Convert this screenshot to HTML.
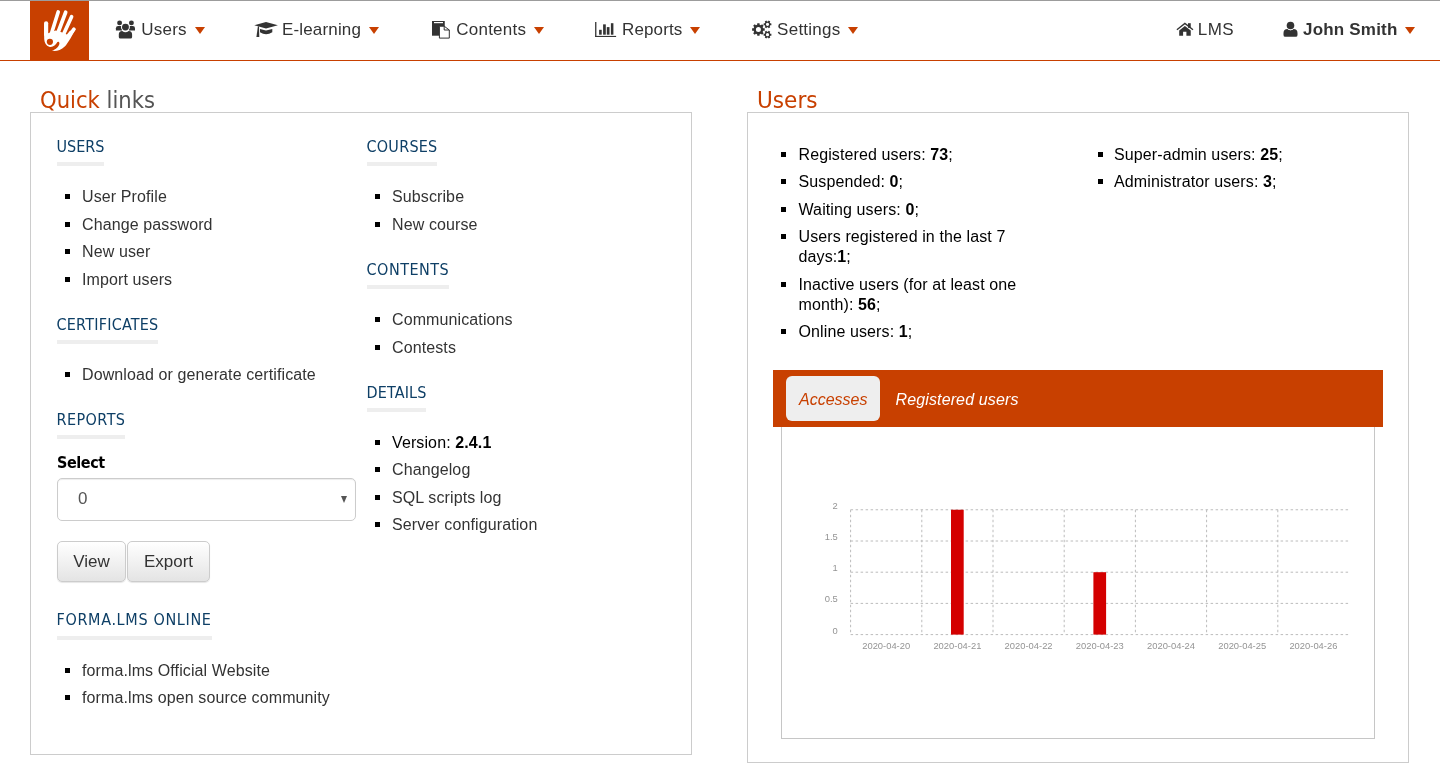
<!DOCTYPE html>
<html lang="en">
<head>
<meta charset="utf-8">
<title>forma.lms - Dashboard</title>
<style>
*{box-sizing:border-box;margin:0;padding:0}
html,body{width:1440px;height:769px;overflow:hidden;background:#fff}
body{font-family:"Liberation Sans",Arial,sans-serif;font-size:16px;color:#000;position:relative}
a{color:inherit;text-decoration:none}
.hf{font-family:"DejaVu Sans Condensed","DejaVu Sans","Liberation Sans",sans-serif}
/* header */
#topline{position:absolute;left:0;top:0;width:1440px;height:1px;background:#9c9c9c}
#header{position:absolute;left:0;top:1px;width:1440px;height:60px;border-bottom:1px solid #c84000;background:#fff}
#logo{position:absolute;left:30px;top:0;width:59px;height:59px;background:#c84000}
.nav{position:absolute;top:0;height:59px;font-size:17px;line-height:20px;color:#333;white-space:nowrap}
.nav .t{position:absolute;top:19px;left:0}
.nav svg{position:absolute}
.caret{position:absolute;width:0;height:0;border-left:5px solid transparent;border-right:5px solid transparent;border-top:7px solid #c84000;top:26px}
/* panels */
.ptitle{position:absolute;font-family:"DejaVu Sans","Liberation Sans",sans-serif;font-size:22.6px;line-height:26px;color:#c84000;white-space:nowrap;transform:scaleX(.943);transform-origin:0 0}
.ptitle span{color:#555}
.panel{position:absolute;border:1px solid #ccc;background:#fff}
.col{position:absolute;top:0}
h3{position:absolute;text-indent:-.5px;font-weight:normal;font-size:16px;line-height:20px;color:#0e3f66;white-space:nowrap;border-bottom:4px solid #eee;height:29px}
ul{position:absolute;list-style:none}
ul li{position:relative;line-height:20px;white-space:nowrap;letter-spacing:.11px}
ul li:before{content:"";position:absolute;width:5px;height:5px;background:#000}
.ql li.x{height:28px}
.ql li{height:27px;color:#333;padding-left:0}
.ql li:before{left:-17px;top:7px}
#sellabel{position:absolute;font-weight:bold;font-size:16px;line-height:20px;color:#000;letter-spacing:-.4px}
#select{position:absolute;left:26px;top:365px;width:299px;height:43px;border:1px solid #ccc;border-radius:5px;background:#fff;color:#555;font-size:17px;box-shadow:inset 0 1px 1px rgba(0,0,0,.075)}
#select span{position:absolute;left:20px;top:10px;line-height:20px}
#select i{position:absolute;right:8px;top:17px;width:0;height:0;border-left:3.75px solid transparent;border-right:3.75px solid transparent;border-top:7.2px solid #555}
.btn{position:absolute;top:428px;height:41px;border:1px solid #ccc;border-radius:5px;background:linear-gradient(#fff,#e4e4e4);color:#333;font-size:17px;line-height:39px;text-align:center;box-shadow:0 1px 1px rgba(0,0,0,.1)}
.ul li{white-space:normal;line-height:20px;margin-bottom:7.43px;color:#000}
.ul li:before{left:-17.5px;top:7px}
.ul.r li:before{left:-16px}
#tabs{position:absolute;left:25px;top:257px;width:610px;height:57px;background:#c84000;font-style:italic;font-size:16px;line-height:20px;letter-spacing:.13px}
#tab1{letter-spacing:0;position:absolute;left:13px;top:6px;width:94px;height:45px;border-radius:6px;background:#eee;color:#c84000;padding:14px 0 0 13px}
#tab2{position:absolute;left:122.5px;top:20px;color:#fff;white-space:nowrap}
#chart{position:absolute;left:33px;top:314px;width:594px;height:312px;border:1px solid #c6c6c6;border-top:0}
</style>
</head>
<body>
<div id="topline"></div>
<div id="header">
  <div id="logo"></div>
  <div class="nav" style="left:116px"><span class="t" style="left:25.2px;letter-spacing:.25px">Users</span><i class="caret" style="left:79px"></i></div>
  <div class="nav" style="left:254px"><span class="t" style="left:28px;letter-spacing:.16px">E-learning</span><i class="caret" style="left:115px"></i></div>
  <div class="nav" style="left:431px"><span class="t" style="left:25.3px;letter-spacing:.22px">Contents</span><i class="caret" style="left:103px"></i></div>
  <div class="nav" style="left:595px"><span class="t" style="left:27px;letter-spacing:.13px">Reports</span><i class="caret" style="left:95px"></i></div>
  <div class="nav" style="left:752px"><span class="t" style="left:25.1px;letter-spacing:.25px">Settings</span><i class="caret" style="left:96px"></i></div>
  <div class="nav" style="left:1177px"><span class="t" style="left:20.8px;letter-spacing:.4px">LMS</span></div>
  <div class="nav" style="left:1284px"><span class="t" style="left:19px;font-weight:bold;letter-spacing:.2px">John Smith</span><i class="caret" style="left:121px"></i></div>
<svg id="icons" width="1440" height="61" viewBox="0 0 1440 61" style="position:absolute;left:0;top:-1px"><g transform="translate(38 4) scale(0.067568)"><path d="M90 420 L92 520 C95 572 122 616 165 632 C215 646 262 612 284 566 C292 552 314 558 317 580 C316 628 262 672 205 690 C255 708 330 690 400 625 C440 580 470 530 560 365 L470 400 L428 452 L348 418 L262 392 L150 432 Z" fill="#fff"/><g stroke="#fff" stroke-linecap="round" fill="none"><line x1="120" y1="286" x2="120" y2="450" stroke-width="62"/><line x1="299" y1="118" x2="198" y2="440" stroke-width="54"/><line x1="409" y1="123" x2="290" y2="440" stroke-width="56"/><line x1="497" y1="188" x2="375" y2="455" stroke-width="54"/><line x1="532" y1="372" x2="440" y2="500" stroke-width="52"/></g><circle cx="176" cy="560" r="46" fill="#c84000"/></g><g fill="#333"><circle cx="119.6" cy="22.9" r="2.45"/><circle cx="131.4" cy="22.9" r="2.45"/><path d="M115.9 30.4 V28.2 Q115.9 25.9 118.2 25.9 H122 V30.4 Z"/><path d="M135 30.4 V28.2 Q135 25.9 132.7 25.9 H129 V30.4 Z"/><circle cx="125.45" cy="27.1" r="4.5" fill="#fff"/><circle cx="125.45" cy="27.1" r="3.45"/><path d="M118.8 37 V34.6 Q118.8 31 122.2 31 Q125.45 33.6 128.7 31 Q132.1 31 132.1 34.6 V37 Q132.1 38.6 130.5 38.6 H120.4 Q118.8 38.6 118.8 37Z"/></g><g fill="#333"><path d="M254.3 25.3 L266 22 L277.9 25.3 L266 28.6 Z"/><path d="M260 28.9 L266 30.6 L272.3 28.9 V32.3 Q266 36.3 260 32.3 Z"/><path d="M257.9 26.3 L259 26.6 L259.3 37 L256.4 37 Z"/></g><g><rect x="432" y="21" width="12.75" height="14.7" fill="#333"/><rect x="434" y="22" width="9" height="1.2" fill="#fff"/><path d="M439.4 26.2 H444.2 L449.3 30 V38.1 H439.4 Z" fill="#fff" stroke="#333" stroke-width="1"/><path d="M444.2 26.2 V30 H449.3" fill="none" stroke="#333" stroke-width="1"/></g><g fill="#333"><rect x="595.1" y="22" width="1.3" height="15"/><rect x="595.1" y="35.9" width="21" height="1.1"/><rect x="599.1" y="29.8" width="2.6" height="4.9"/><rect x="603.1" y="24.35" width="2.7" height="10.35"/><rect x="606.8" y="27.1" width="2.7" height="7.6"/><rect x="610.9" y="23.2" width="2.5" height="11.5"/></g><path d="M759.66 34.24 L759.53 35.80 L757.27 35.80 L757.14 34.24 L755.94 33.74 L754.74 34.75 L753.15 33.16 L754.16 31.96 L753.66 30.76 L752.10 30.63 L752.10 28.37 L753.66 28.24 L754.16 27.04 L753.15 25.84 L754.74 24.25 L755.94 25.26 L757.14 24.76 L757.27 23.20 L759.53 23.20 L759.66 24.76 L760.86 25.26 L762.06 24.25 L763.65 25.84 L762.64 27.04 L763.14 28.24 L764.70 28.37 L764.70 30.63 L763.14 30.76 L762.64 31.96 L763.65 33.16 L762.06 34.75 L760.86 33.74Z M760.90 29.50 A2.5 2.5 0 1 0 755.90 29.50 A2.5 2.5 0 1 0 760.90 29.50Z" fill="#333" fill-rule="evenodd"/><path d="M770.23 23.37 L771.39 23.41 L771.39 25.29 L770.23 25.33 L769.72 26.22 L770.26 27.25 L768.63 28.19 L768.01 27.20 L766.99 27.20 L766.37 28.19 L764.74 27.25 L765.28 26.22 L764.77 25.33 L763.61 25.29 L763.61 23.41 L764.77 23.37 L765.28 22.48 L764.74 21.45 L766.37 20.51 L766.99 21.50 L768.01 21.50 L768.63 20.51 L770.26 21.45 L769.72 22.48Z M769.10 24.35 A1.6 1.6 0 1 0 765.90 24.35 A1.6 1.6 0 1 0 769.10 24.35Z" fill="#333" fill-rule="evenodd"/><path d="M770.23 33.72 L771.39 33.76 L771.39 35.64 L770.23 35.68 L769.72 36.57 L770.26 37.60 L768.63 38.54 L768.01 37.55 L766.99 37.55 L766.37 38.54 L764.74 37.60 L765.28 36.57 L764.77 35.68 L763.61 35.64 L763.61 33.76 L764.77 33.72 L765.28 32.83 L764.74 31.80 L766.37 30.86 L766.99 31.85 L768.01 31.85 L768.63 30.86 L770.26 31.80 L769.72 32.83Z M769.10 34.70 A1.6 1.6 0 1 0 765.90 34.70 A1.6 1.6 0 1 0 769.10 34.70Z" fill="#333" fill-rule="evenodd"/><g><path d="M1176.9 29.7 L1184.9 23.4 L1193 29.7" fill="none" stroke="#333" stroke-width="1.4"/><rect x="1188" y="23.2" width="2.75" height="4.6" fill="#333"/><path d="M1179.2 30.6 L1184.9 26.1 L1190.75 30.6 V35.7 H1186.4 V31.8 H1183.1 V35.7 H1179.2 Z" fill="#333"/></g><g fill="#333"><path d="M1283.5 35 V33 Q1283.5 29 1287.6 29 Q1290.5 31.6 1293.4 29 Q1297.5 29 1297.5 33 V35 Q1297.5 36.85 1295.7 36.85 H1285.3 Q1283.5 36.85 1283.5 35 Z"/><circle cx="1290.5" cy="25.5" r="4.7" fill="#fff"/><circle cx="1290.5" cy="25.5" r="3.8"/></g></svg>
</div>

<div class="ptitle" style="left:40px;top:87.3px;transform:scaleX(.937)">Quick <span>links</span></div>
<div class="panel" id="ql" style="left:30px;top:112px;width:662px;height:643px">
  <h3 class="hf" style="left:26px;top:24px">USERS</h3>
  <ul class="ql" style="left:51px;top:74px">
    <li class="x"><a>User Profile</a></li>
    <li><a>Change password</a></li>
    <li class="x"><a>New user</a></li>
    <li><a>Import users</a></li>
  </ul>
  <h3 class="hf" style="left:26px;top:202px;letter-spacing:0.23px">CERTIFICATES</h3>
  <ul class="ql" style="left:51px;top:252px">
    <li><a>Download or generate certificate</a></li>
  </ul>
  <h3 class="hf" style="left:26px;top:297px;letter-spacing:0.44px">REPORTS</h3>
  <label class="hf" id="sellabel" style="left:26px;top:340px">Select</label>
  <div id="select"><span>0</span><i></i></div>
  <div class="btn" style="left:26px;width:69px">View</div>
  <div class="btn" style="left:96px;width:83px">Export</div>
  <h3 class="hf" style="left:26px;top:497px;height:30px;letter-spacing:0.66px">FORMA.LMS ONLINE</h3>
  <ul class="ql" style="left:51px;top:548px">
    <li><a>forma.lms Official Website</a></li>
    <li><a>forma.lms open source community</a></li>
  </ul>

  <h3 class="hf" style="left:336px;top:24px;letter-spacing:0.24px">COURSES</h3>
  <ul class="ql" style="left:361px;top:74px">
    <li class="x"><a>Subscribe</a></li>
    <li><a>New course</a></li>
  </ul>
  <h3 class="hf" style="left:336px;top:147px;letter-spacing:0.5px">CONTENTS</h3>
  <ul class="ql" style="left:361px;top:197px">
    <li class="x"><a>Communications</a></li>
    <li><a>Contests</a></li>
  </ul>
  <h3 class="hf" style="left:336px;top:270px;letter-spacing:0.14px">DETAILS</h3>
  <ul class="ql" style="left:361px;top:320px">
    <li style="color:#000">Version: <b>2.4.1</b></li>
    <li class="x"><a>Changelog</a></li>
    <li><a>SQL scripts log</a></li>
    <li><a>Server configuration</a></li>
  </ul>
</div>

<div class="ptitle" style="left:756.8px;top:87px;transform:scaleX(.957)">Users</div>
<div class="panel" id="us" style="left:747px;top:112px;width:662px;height:651px">
  <ul class="ul" style="left:50.5px;top:32px;width:240px">
    <li>Registered users: <b>73</b>;</li>
    <li>Suspended: <b>0</b>;</li>
    <li>Waiting users: <b>0</b>;</li>
    <li>Users registered in the last 7 days:<b>1</b>;</li>
    <li>Inactive users (for at least one month): <b>56</b>;</li>
    <li>Online users: <b>1</b>;</li>
  </ul>
  <ul class="ul r" style="left:366px;top:32px;width:240px">
    <li>Super-admin users: <b>25</b>;</li>
    <li>Administrator users: <b>3</b>;</li>
  </ul>
  <div id="tabs"><div id="tab1">Accesses</div><div id="tab2">Registered users</div></div>
  <div id="chart">
    <svg width="593" height="311" viewBox="0 0 593 311" style="position:absolute;left:-1px;top:0">
      <g stroke="#bcbcbc" stroke-width="1" stroke-dasharray="2.5 2.5" fill="none"><line x1="69.6" y1="82.75" x2="568.0" y2="82.75"/><line x1="69.6" y1="114" x2="568.0" y2="114"/><line x1="69.6" y1="145.2" x2="568.0" y2="145.2"/><line x1="69.6" y1="176.4" x2="568.0" y2="176.4"/><line x1="69.6" y1="207.6" x2="568.0" y2="207.6"/><line x1="69.6" y1="82.75" x2="69.6" y2="207.6"/><line x1="140.8" y1="82.75" x2="140.8" y2="207.6"/><line x1="212.0" y1="82.75" x2="212.0" y2="207.6"/><line x1="283.2" y1="82.75" x2="283.2" y2="207.6"/><line x1="354.4" y1="82.75" x2="354.4" y2="207.6"/><line x1="425.6" y1="82.75" x2="425.6" y2="207.6"/><line x1="496.8" y1="82.75" x2="496.8" y2="207.6"/></g>
      <g fill="#d40000"><rect x="170" y="82.75" width="12.7" height="124.85"/><rect x="312.4" y="145.2" width="12.7" height="62.40"/></g>
      <g font-family="Liberation Sans, Arial, sans-serif" font-size="9.4" fill="#949494"><text x="56.8" y="81.75" text-anchor="end">2</text><text x="56.8" y="113" text-anchor="end">1.5</text><text x="56.8" y="144.2" text-anchor="end">1</text><text x="56.8" y="175.4" text-anchor="end">0.5</text><text x="56.8" y="206.6" text-anchor="end">0</text><text x="105.2" y="222" text-anchor="middle">2020-04-20</text><text x="176.4" y="222" text-anchor="middle">2020-04-21</text><text x="247.6" y="222" text-anchor="middle">2020-04-22</text><text x="318.8" y="222" text-anchor="middle">2020-04-23</text><text x="390.0" y="222" text-anchor="middle">2020-04-24</text><text x="461.2" y="222" text-anchor="middle">2020-04-25</text><text x="532.4" y="222" text-anchor="middle">2020-04-26</text></g>
    </svg>
  </div>
</div>
</body>
</html>
